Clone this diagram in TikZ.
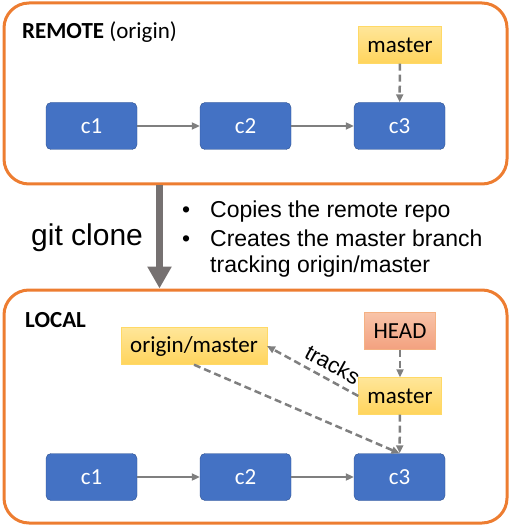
\documentclass[tikz,border=0pt]{standalone}
\usepackage{fontspec}
\setmainfont{Carlito}
\newfontfamily\arial{Liberation Sans}
\usepackage{tikz}
\usetikzlibrary{arrows.meta}
\definecolor{borange}{HTML}{ED7D31}
\definecolor{cblue}{HTML}{4472C4}
\definecolor{cline}{HTML}{2F528F}
\definecolor{ytop}{HTML}{FFE699}
\definecolor{ybot}{HTML}{FFD45C}
\definecolor{yline}{HTML}{FFD966}
\definecolor{htop}{HTML}{F8C3A8}
\definecolor{hbot}{HTML}{F3A17F}
\definecolor{hline}{HTML}{F4B183}
\definecolor{agray}{HTML}{7F7F7F}
\definecolor{cgray}{HTML}{767171}
\tikzset{outer/.style={rectangle,draw=borange,line width=3pt,rounded corners=25pt},
  commit/.style={rectangle,draw=cline,fill=cblue,rounded corners=5pt,minimum width=91pt,minimum height=47pt,text=white,font=\fontsize{23}{27}\selectfont},
  br/.style={rectangle,draw=yline,top color=ytop,bottom color=ybot,minimum height=37pt,inner xsep=9pt,font=\fontsize{23}{27}\selectfont},
  hd/.style={br,draw=hline,top color=htop,bottom color=hbot},
  ln/.style={-{Triangle[length=8pt,width=7pt]},line width=2pt,agray},
  dln/.style={ln,line width=2.5pt,dash pattern=on 7pt off 4pt}}

\begin{document}
\begin{tikzpicture}[x=1pt,y=-1pt]
  \useasboundingbox (0,0) rectangle (512,526);

	\def\ya{126};
	\def\yb{477};

	\node[outer, minimum width=503pt, minimum height=181pt] (remote) at (255.5,93.5) {};
	\node[outer, minimum width=503pt, minimum height=233pt] (local) at (255.5,406.5) {};
	\node[anchor=base west, inner sep=0, font=\fontsize{23}{27}\selectfont] (rtitle) at (22,39) {\textbf{REMOTE} (origin)};
	\node[anchor=base west, inner sep=0, font=\fontsize{23}{27}\selectfont] (ltitle) at (25,327) {\textbf{LOCAL}};

	\foreach \i/\x in {1/91.5, 2/245.5, 3/399.5} {
		\node[commit] (r\i) at (\x,\ya) {c\i};
		\node[commit] (l\i) at (\x,\yb) {c\i};
	}
	\draw[ln] (r1) -- (r2);
	\draw[ln] (r2) -- (r3);
	\draw[ln] (l1) -- (l2);
	\draw[ln] (l2) -- (l3);

	\node[br] (rmaster) at (400,45) {master};
	\node[hd] (head) at (400,331) {HEAD};
	\node[br] (omaster) at (194,346) {origin/master};
	\node[br] (lmaster) at (400,396) {master};

	\draw[dln] (rmaster) -- (r3);
	\draw[dln] (head) -- (lmaster);
	\draw[dln] (lmaster) -- (l3);
	\draw[dln] (omaster.south) -- (l3.north);
	\draw[dln] (lmaster.west) -- node[pos=0.36, sloped, above, inner sep=6pt, text=black, font=\arial\fontsize{22}{26}\selectfont] (tracks) {tracks} (omaster.east);

	% git clone
	\coordinate (cx) at (159.5,0);
	\draw[-{Triangle[width=23pt,length=22pt]}, line width=7pt, cgray] (remote.south -| cx) -- (local.north -| cx);
	\node[anchor=base west, inner sep=0, font=\arial\fontsize{30}{34}\selectfont] (clone) at (31,245) {git clone};
	\node[anchor=base west, inner sep=0, font=\arial\fontsize{23}{27}\selectfont] (b1) at (210,218) {\llap{\textbullet\hspace{20pt}}Copies the remote repo};
	\node[anchor=base west, inner sep=0, font=\arial\fontsize{23}{27}\selectfont] (b2) at (210,246) {\llap{\textbullet\hspace{20pt}}Creates the master branch};
	\node[anchor=base west, inner sep=0, font=\arial\fontsize{23}{27}\selectfont] (b3) at (210,272) {tracking origin/master};

\end{tikzpicture}
\end{document}
